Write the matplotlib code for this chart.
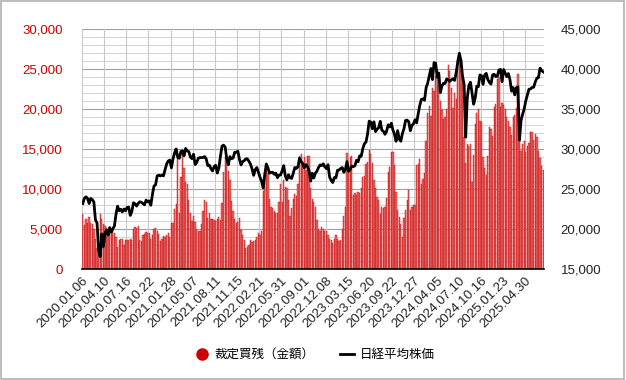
import numpy as np
import matplotlib
matplotlib.use("Agg")
import matplotlib.pyplot as plt
from matplotlib.lines import Line2D

plt.rcParams['font.family'] = ['Liberation Sans', 'Noto Sans CJK JP', 'DejaVu Sans']

# tick labels, one every 14 weekly records
tick_labels = ["2020.01.06", "2020.04.10", "2020.07.16", "2020.10.22", "2021.01.28",
               "2021.05.07", "2021.08.11", "2021.11.15", "2022.02.21", "2022.05.31",
               "2022.09.01", "2022.12.08", "2023.03.15", "2023.06.20", "2023.09.22",
               "2023.12.27", "2024.04.05", "2024.07.10", "2024.10.16", "2025.01.23",
               "2025.04.30"]

# 裁定買残（金額） weekly
arb_buy = [
    6900, 5500, 6300, 5800, 6500, 5800, 5600, 5000, 3800, 2600, 3200, 6900, 6300, 5600,
    5400, 5100, 4800, 4500, 4600, 4900, 4500, 4000, 2800, 3600, 3700, 3800, 3000, 3600,
    3600, 3600, 3700, 3600, 5000, 5200, 5100, 5400, 3600, 3500, 4200, 4400, 4600, 4500,
    4500, 3700, 4300, 5000, 5100, 4800, 4400, 3500, 3700, 4100, 4000, 4200, 4500, 4000,
    5800, 5800, 7500, 8200, 13800, 7000, 11500, 14700, 12600, 10900, 10700, 8600, 7000, 6000,
    6600, 5900, 5000, 4700, 4700, 5600, 7200, 8600, 8400, 6400, 7000, 6200, 6300, 6100,
    6000, 6200, 6500, 6100, 8300, 12200, 14000, 13500, 12300, 11200, 8500, 7200, 6300, 5800,
    5900, 6400, 4900, 4200, 3600, 2600, 2800, 3000, 3600, 3400, 3500, 3600, 4000, 4500,
    4300, 4700, 9800, 11500, 13000, 12000, 8800, 7800, 7600, 7200, 7000, 7000, 8400, 10700,
    8400, 11100, 10300, 10100, 8700, 6600, 7600, 8800, 9400, 9200, 10600, 14200, 14400, 13200,
    14000, 12400, 14100, 14100, 10200, 8800, 8400, 7800, 6100, 5000, 4800, 5300, 5000, 4700,
    4800, 4300, 3800, 3600, 3200, 3800, 4300, 3800, 3500, 3600, 5000, 6600, 7800, 14500,
    12400, 14000, 14200, 9300, 9500, 9300, 9700, 9500, 10100, 11500, 11700, 13200, 13400, 14900,
    14400, 13300, 11200, 10200, 9000, 8600, 6900, 7800, 7600, 7700, 8900, 12200, 12800, 14700,
    14600, 13000, 9600, 7400, 6500, 5600, 4000, 6400, 7400, 8600, 9900, 7400, 7800, 8000,
    8000, 13000, 13200, 13800, 10700, 11300, 12000, 16000, 19500, 20400, 19200, 22600, 22300, 24200,
    25000, 23000, 21000, 19900, 18800, 19000, 20000, 25500, 24800, 22600, 20100, 22000, 21300, 26300,
    26600, 26100, 23300, 16500, 13300, 15700, 15400, 15600, 10900, 14300, 18200, 19500, 20000, 18500,
    18400, 14000, 12700, 11800, 14100, 17800, 17500, 16700, 20300, 20600, 23800, 24000, 20300, 20800,
    20500, 20000, 19000, 18500, 17800, 16800, 19000, 19300, 20200, 24400, 17200, 14800, 15700, 16000,
    14700, 15400, 15800, 17200, 17200, 16200, 16900, 16500, 14800, 13900, 12900, 12400,
]

# 日経平均株価 weekly
nikkei = [
    23200, 23850, 24040, 23830, 23200, 23830, 23690, 23390, 21140, 20750, 17430, 16550, 19390, 17820,
    19500, 19900, 19260, 20190, 19620, 20040, 20390, 21880, 22860, 22300, 22480, 22150, 22510, 22290,
    22700, 22750, 21710, 22200, 23290, 23170, 22880, 23210, 23410, 23360, 23200, 23030, 23620, 23410,
    23520, 22980, 24330, 25390, 25530, 26640, 26750, 26650, 26760, 26660, 27440, 28140, 28520, 28630,
    27660, 28780, 29520, 30020, 28970, 28860, 29720, 29790, 29180, 30090, 29770, 29680, 29020, 28810,
    29360, 28080, 28320, 28860, 28940, 28950, 28960, 29070, 28780, 27940, 28000, 27550, 27280, 27820,
    27980, 27010, 27640, 29130, 30380, 30500, 30250, 28770, 28050, 29070, 28800, 28890, 29610, 29610,
    29750, 28750, 28030, 28440, 28550, 28780, 28790, 28480, 28120, 27520, 26720, 27440, 27700, 27120,
    26480, 25990, 25160, 26830, 28150, 27670, 26990, 27090, 27110, 26850, 27000, 26430, 26740, 26780,
    27280, 27940, 26630, 26150, 26800, 26420, 26340, 26960, 27700, 27590, 27820, 28870, 28450, 28200,
    27660, 28070, 27820, 27310, 26000, 26990, 26400, 27000, 27250, 27700, 28030, 27940, 28160, 27780,
    27570, 28050, 26510, 26090, 25820, 26450, 26410, 27360, 27400, 27580, 27700, 27100, 27500, 28440,
    27230, 27470, 27880, 27810, 27920, 28610, 28420, 29160, 29120, 30090, 30680, 30890, 31910, 33500,
    33390, 32540, 33420, 32190, 32490, 32680, 33480, 32380, 32240, 31860, 32230, 33040, 32780, 33240,
    32400, 31860, 30990, 32320, 31260, 30990, 31950, 32570, 33590, 33630, 33430, 32310, 32970, 33170,
    33680, 33290, 34440, 35480, 36230, 36290, 36120, 37700, 38260, 39170, 40090, 38700, 40820, 40760,
    38990, 39520, 37070, 37930, 38240, 38230, 38790, 38650, 38490, 38680, 38810, 38600, 39580, 40910,
    42000, 41100, 39150, 38100, 31500, 36400, 37950, 38370, 37050, 35620, 36380, 37870, 37810, 39280,
    39180, 38110, 39280, 39480, 38720, 38350, 38140, 39280, 39370, 39080, 39130, 39890, 39980, 38450,
    39960, 39510, 39070, 39460, 38680, 37260, 37700, 36790, 37680, 37800, 31140, 33600, 34380, 35040,
    36050, 36780, 37500, 37530, 37720, 37750, 38420, 38890, 38940, 40150, 39820, 39660,
]

TICK_STEP = 14
x = np.arange(len(arb_buy))

fig = plt.figure(figsize=(6.26, 3.8), dpi=100)
fig.patches.append(plt.Rectangle((0.002, 0.003), 0.995, 0.994, transform=fig.transFigure,
                                 fill=False, edgecolor="#b0b0b0", linewidth=1.2))
ax = fig.add_axes([0.131, 0.292, 0.738, 0.631])

# grid: minor every 1000, major every 5000
for v in range(0, 30001, 1000):
    ax.axhline(v, color="#a0a0a0" if v % 5000 == 0 else "#d6d6d6", linewidth=0.8, zorder=0)
tick_pos = np.arange(len(tick_labels)) * TICK_STEP - 0.5
for p in tick_pos:
    ax.axvline(p, color="#c8c8c8", linewidth=0.8, zorder=0)

ax.bar(x, arb_buy, width=0.8, color="#e46c6c", edgecolor="#c80000", linewidth=0.3, zorder=2)

ax.set_xlim(-0.5, len(arb_buy) - 0.5)
ax.set_ylim(0, 30000)
ax.set_yticks(range(0, 30001, 5000))
ax.set_yticklabels([f"{v:,}" for v in range(0, 30001, 5000)])
ax.tick_params(axis="y", colors="#cc0000", labelsize=9.5, length=0, pad=14)
ax.set_xticks(tick_pos)
ax.set_xticklabels(tick_labels, rotation=45, ha="right", rotation_mode="anchor")
ax.tick_params(axis="x", labelsize=9.5, length=0, pad=4, colors="#222222")
for s in ["top", "left", "right"]:
    ax.spines[s].set_visible(False)
ax.spines["bottom"].set_color("black")
ax.spines["bottom"].set_linewidth(1.2)
ax.spines["bottom"].set_zorder(5)

ax2 = ax.twinx()
ax2.plot(x, nikkei, color="black", linewidth=2.0, zorder=3)
ax2.set_ylim(15000, 45000)
ax2.set_yticks(range(15000, 45001, 5000))
ax2.set_yticklabels([f"{v:,}" for v in range(15000, 45001, 5000)])
ax2.tick_params(axis="y", colors="#222222", labelsize=9.5, length=0, pad=12)
for s in ["top", "left", "right", "bottom"]:
    ax2.spines[s].set_visible(False)

handles = [Line2D([], [], marker="o", color="#cc0000", linestyle="none", markersize=8),
           Line2D([], [], color="black", linewidth=2)]
fig.legend(handles, ["裁定買残（金額）", "日経平均株価"], loc="center", bbox_to_anchor=(0.503, 0.066),
           ncol=2, frameon=False, fontsize=9, handlelength=1.1, columnspacing=2.0, handletextpad=0.5)

fig.savefig("out.png", dpi=100)
